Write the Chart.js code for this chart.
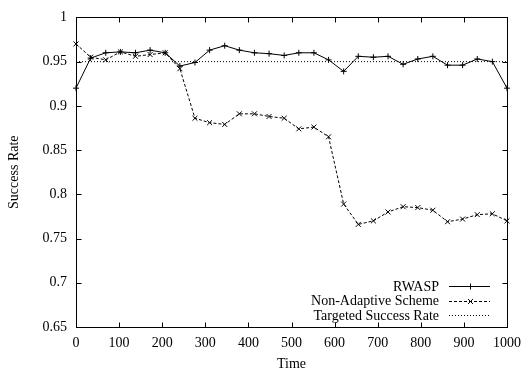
<!DOCTYPE html>
<html>
<head>
<meta charset="utf-8">
<script src="https://cdn.jsdelivr.net/npm/chart.js@4"></script>
<style>
  html, body { margin: 0; padding: 0; background: #fff; }
  #wrap { width: 529px; height: 374px; }
</style>
</head>
<body>
<div id="wrap"><canvas id="successChart" width="529" height="374"></canvas></div>
<script>
const times = [0, 34, 69, 103, 138, 172, 207, 241, 276, 310, 345, 379, 414, 448, 483,
  517, 552, 586, 621, 655, 690, 724, 759, 793, 828, 862, 897, 931, 966, 1000];

const rwasp = [0.920, 0.954, 0.960, 0.961, 0.960, 0.963, 0.960, 0.945, 0.949, 0.963,
  0.968, 0.963, 0.960, 0.959, 0.957, 0.960, 0.960, 0.952, 0.939, 0.956,
  0.955, 0.956, 0.947, 0.953, 0.956, 0.946, 0.946, 0.953, 0.950, 0.920];

const nonAdaptive = [0.970, 0.955, 0.952, 0.961, 0.956, 0.958, 0.960, 0.942, 0.886, 0.881,
  0.879, 0.891, 0.891, 0.888, 0.886, 0.874, 0.876, 0.865, 0.789, 0.766,
  0.770, 0.780, 0.786, 0.785, 0.782, 0.769, 0.772, 0.777, 0.778, 0.770];

const targetTimes = [0, 1000];
const targetRate = [0.95, 0.95];

const seriesNames = ["RWASP", "Non-Adaptive Scheme", "Targeted Success Rate"];

const FONT = "Liberation Serif";

function toPoints(xs, ys) {
  return xs.map((x, i) => ({ x: x, y: ys[i] }));
}

function drawMarker(ctx, style, x, y, r) {
  ctx.beginPath();
  if (style === "cross") {
    ctx.moveTo(x - r, y); ctx.lineTo(x + r, y);
    ctx.moveTo(x, y - r); ctx.lineTo(x, y + r);
  } else if (style === "crossRot") {
    const d = r * Math.SQRT1_2;
    ctx.moveTo(x - d, y - d); ctx.lineTo(x + d, y + d);
    ctx.moveTo(x - d, y + d); ctx.lineTo(x + d, y - d);
  }
  ctx.stroke();
}

// gnuplot-like frame: box, inward ticks on all four sides, key in the lower right
const gnuFrame = {
  id: "gnuFrame",
  beforeDatasetsDraw(chart) {
    const { ctx, chartArea: a, scales } = chart;
    const L = Math.round(a.left) + 0.5, R = Math.round(a.right) + 0.5;
    const T = Math.round(a.top) + 0.5, B = Math.round(a.bottom) + 0.5;
    ctx.save();
    ctx.strokeStyle = "#000";
    ctx.lineWidth = 1;
    ctx.setLineDash([]);
    ctx.strokeRect(L, T, R - L, B - T);
    const tl = 5;
    ctx.beginPath();
    scales.x.ticks.forEach((t) => {
      const px = Math.round(scales.x.getPixelForValue(t.value)) + 0.5;
      ctx.moveTo(px, B); ctx.lineTo(px, B - tl);
      ctx.moveTo(px, T); ctx.lineTo(px, T + tl);
    });
    scales.y.ticks.forEach((t) => {
      const py = Math.round(scales.y.getPixelForValue(t.value)) + 0.5;
      ctx.moveTo(L, py); ctx.lineTo(L + tl, py);
      ctx.moveTo(R, py); ctx.lineTo(R - tl, py);
    });
    ctx.stroke();
    ctx.restore();
  },
  afterDatasetsDraw(chart) {
    const { ctx, chartArea: a } = chart;
    const textRight = a.right - 68;
    const lineStart = a.right - 58;
    const lineEnd = a.right - 17;
    const rowGap = 14.5;
    const firstRow = a.bottom - 41;
    ctx.save();
    ctx.font = "14px '" + FONT + "'";
    ctx.fillStyle = "#000";
    ctx.textAlign = "right";
    ctx.textBaseline = "middle";
    chart.data.datasets.forEach((ds, i) => {
      const y = firstRow + i * rowGap;
      ctx.fillText(ds.label, textRight, y + 1);
      const yy = Math.round(y) + 0.5;
      ctx.strokeStyle = "#000";
      ctx.lineWidth = 1;
      ctx.setLineDash(ds.borderDash || []);
      ctx.beginPath();
      ctx.moveTo(lineStart, yy);
      ctx.lineTo(lineEnd, yy);
      ctx.stroke();
      ctx.setLineDash([]);
      if (ds.pointRadius > 0) {
        drawMarker(ctx, ds.pointStyle, Math.round((lineStart + lineEnd) / 2) + 0.5, yy, ds.pointRadius);
      }
    });
    ctx.restore();
  }
};

const ctx = document.getElementById("successChart");

new Chart(ctx, {
  type: "line",
  data: {
    datasets: [
      {
        label: seriesNames[0],
        data: toPoints(times, rwasp),
        borderColor: "#000",
        borderWidth: 1,
        pointStyle: "cross",
        pointRadius: 3,
        pointBorderColor: "#000",
        pointBorderWidth: 1,
        tension: 0,
        clip: false,
      },
      {
        label: seriesNames[1],
        data: toPoints(times, nonAdaptive),
        borderColor: "#000",
        borderWidth: 1,
        borderDash: [3, 2],
        pointStyle: "crossRot",
        pointRadius: 3.5,
        pointBorderColor: "#000",
        pointBorderWidth: 1,
        tension: 0,
        clip: false,
      },
      {
        label: seriesNames[2],
        data: toPoints(targetTimes, targetRate),
        borderColor: "#000",
        borderWidth: 1,
        borderDash: [1, 2],
        pointRadius: 0,
        tension: 0,
      },
    ],
  },
  options: {
    responsive: false,
    animation: false,
    devicePixelRatio: 1,
    layout: {
      padding: { top: 13, right: 16, left: 0, bottom: 0 },
    },
    plugins: {
      legend: { display: false },
      title: { display: false },
      tooltip: { enabled: false },
    },
    scales: {
      x: {
        type: "linear",
        min: 0,
        max: 1000,
        border: { display: false },
        grid: { display: false, drawTicks: false },
        ticks: {
          stepSize: 100,
          color: "#000",
          padding: 8,
          maxRotation: 0,
          font: { family: FONT, size: 14 },
          callback: function (value) {
            return String(value);
          },
        },
        title: {
          display: true,
          text: "Time",
          color: "#000",
          padding: { top: 0, bottom: 1 },
          font: { family: FONT, size: 14 },
        },
        afterFit: function (scale) {
          scale.height = 47;
        },
      },
      y: {
        min: 0.65,
        max: 1,
        border: { display: false },
        grid: { display: false, drawTicks: false },
        ticks: {
          stepSize: 0.05,
          color: "#000",
          padding: 9,
          font: { family: FONT, size: 14 },
          callback: function (value) {
            return String(parseFloat(value.toFixed(2)));
          },
        },
        title: {
          display: true,
          text: "Success Rate",
          color: "#000",
          padding: { top: 6, bottom: 0 },
          font: { family: FONT, size: 14 },
        },
        afterFit: function (scale) {
          scale.width = 76;
        },
      },
    },
  },
  plugins: [gnuFrame],
});
</script>
</body>
</html>
